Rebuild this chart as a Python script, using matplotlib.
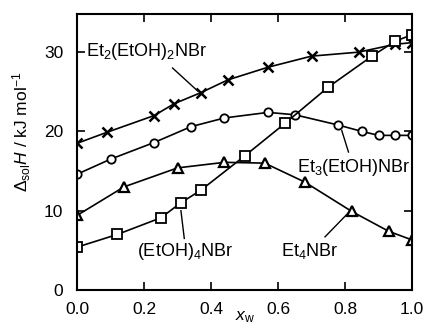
import numpy as np
import matplotlib
matplotlib.use("Agg")
import matplotlib.pyplot as plt

plt.rcParams['font.family'] = ['Liberation Sans', 'DejaVu Sans']
plt.rcParams['mathtext.fontset'] = 'custom'
plt.rcParams['mathtext.rm'] = 'Liberation Sans'
plt.rcParams['mathtext.it'] = 'Liberation Sans:italic'

# Et2(EtOH)2NBr  (crosses)
x_et2 = [0.0, 0.09, 0.23, 0.29, 0.37, 0.45, 0.57, 0.70, 0.84, 0.95, 1.0]
y_et2 = [18.5, 19.9, 22.0, 23.5, 24.9, 26.5, 28.1, 29.5, 30.0, 31.0, 31.2]

# Et3(EtOH)NBr  (circles)
x_et3 = [0.0, 0.10, 0.23, 0.34, 0.44, 0.57, 0.65, 0.78, 0.85, 0.90, 0.95, 1.0]
y_et3 = [14.6, 16.5, 18.6, 20.6, 21.7, 22.4, 22.1, 20.8, 20.0, 19.5, 19.5, 19.5]

# (EtOH)4NBr  (squares)
x_eoh = [0.0, 0.12, 0.25, 0.31, 0.37, 0.50, 0.62, 0.75, 0.88, 0.95, 1.0]
y_eoh = [5.4, 7.0, 9.1, 11.0, 12.6, 16.9, 21.0, 25.6, 29.5, 31.4, 32.2]

# Et4NBr  (triangles)
x_et4 = [0.0, 0.14, 0.30, 0.44, 0.56, 0.68, 0.82, 0.93, 1.0]
y_et4 = [9.4, 13.0, 15.4, 16.1, 16.0, 13.6, 9.9, 7.4, 6.3]

fig = plt.figure(figsize=(4.28, 3.28), dpi=100)
ax = fig.add_axes([0.180, 0.116, 0.783, 0.841])

lk = dict(color='black', lw=1.2)
ax.plot(x_et2, y_et2, marker='x', ms=7, mew=1.8, **lk)
ax.plot(x_et3, y_et3, marker='o', ms=6, mfc='white', mew=1.3, **lk)
ax.plot(x_eoh, y_eoh, marker='s', ms=6.5, mfc='white', mew=1.3, **lk)
ax.plot(x_et4, y_et4, marker='^', ms=6.5, mfc='white', mew=1.6, **lk)

fs = 13
ax.text(0.027, 30.1, r'Et$_2$(EtOH)$_2$NBr', fontsize=fs, va='center')
ax.plot([0.285, 0.36], [28.0, 25.1], color='black', lw=1)
ax.text(0.655, 15.4, r'Et$_3$(EtOH)NBr', fontsize=fs, va='center')
ax.plot([0.79, 0.81], [20.1, 17.4], color='black', lw=1)
ax.text(0.18, 4.9, r'(EtOH)$_4$NBr', fontsize=fs, va='center')
ax.plot([0.31, 0.32], [10.0, 6.5], color='black', lw=1)
ax.text(0.61, 4.9, r'Et$_4$NBr', fontsize=fs, va='center')
ax.plot([0.74, 0.81], [6.7, 9.75], color='black', lw=1)

ax.set_xlim(0, 1.0)
ax.set_ylim(0, 34.8)
ax.set_xticks(np.arange(0, 1.01, 0.2))
ax.set_xticklabels(['0.0', '0.2', '0.4', '0.6', '0.8', '1.0'])
ax.set_yticks([0, 10, 20, 30])
ax.tick_params(direction='in', length=6, width=1.2, labelsize=12.5,
               top=True, right=True)
ax.tick_params(axis='x', pad=9)
ax.tick_params(axis='y', pad=10)
for s in ax.spines.values():
    s.set_linewidth(1.5)

ax.set_xlabel(r'$x_{\rm w}$', fontsize=12.5)
ax.xaxis.set_label_coords(0.5, -0.07)
ax.set_ylabel(r'$\Delta_{\rm sol}H$ / kJ mol$^{-1}$', fontsize=12.5)
ax.yaxis.set_label_coords(-0.13, 0.575)

fig.savefig('out.png', dpi=100)
